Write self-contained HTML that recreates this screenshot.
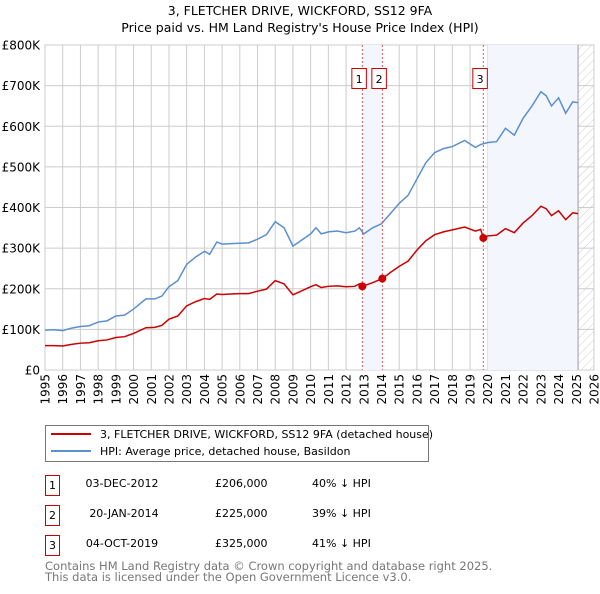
<!DOCTYPE html>
<html><head><meta charset="utf-8"><style>
body{margin:0;background:#fff;font-family:"DejaVu Sans","Liberation Sans",sans-serif}
svg text{font-family:"DejaVu Sans","Liberation Sans",sans-serif}
</style></head><body>
<svg id="chart" width="600" height="590" xmlns="http://www.w3.org/2000/svg">
<text x="300" y="15" text-anchor="middle" font-size="12.5">3, FLETCHER DRIVE, WICKFORD, SS12 9FA</text>
<text x="300" y="32" text-anchor="middle" font-size="12.5">Price paid vs. HM Land Registry's House Price Index (HPI)</text>
<defs><pattern id="hatch" width="6" height="6" patternUnits="userSpaceOnUse" patternTransform="rotate(45)"><line x1="0" y1="0" x2="0" y2="6" stroke="#ccc" stroke-width="1"/></pattern></defs>
<g id="grid"></g><g id="shade"></g><g id="lines"></g><g id="axes"></g>
<g>
<rect x="45.5" y="425.5" width="383" height="36" fill="#fff" stroke="#777"/>
<line x1="51" y1="434" x2="91" y2="434" stroke="#cc0000" stroke-width="2"/>
<text x="100" y="438" font-size="11">3, FLETCHER DRIVE, WICKFORD, SS12 9FA (detached house)</text>
<line x1="51" y1="451" x2="91" y2="451" stroke="#5b8fd0" stroke-width="2"/>
<text x="100" y="455" font-size="11">HPI: Average price, detached house, Basildon</text>
</g>
<g font-size="11">
<rect x="45.5" y="475.5" width="14" height="20" fill="#fff" stroke="#cc0000"/><text x="52.5" y="489" text-anchor="middle">1</text>
<text x="122" y="487" text-anchor="middle">03-DEC-2012</text><text x="215" y="487">£206,000</text><text x="312" y="487">40% ↓ HPI</text>
<rect x="45.5" y="505.5" width="14" height="20" fill="#fff" stroke="#cc0000"/><text x="52.5" y="519" text-anchor="middle">2</text>
<text x="124" y="517" text-anchor="middle">20-JAN-2014</text><text x="215" y="517">£225,000</text><text x="312" y="517">39% ↓ HPI</text>
<rect x="45.5" y="535.5" width="14" height="20" fill="#fff" stroke="#cc0000"/><text x="52.5" y="549" text-anchor="middle">3</text>
<text x="122" y="547" text-anchor="middle">04-OCT-2019</text><text x="215" y="547">£325,000</text><text x="312" y="547">41% ↓ HPI</text>
</g>
<text x="45" y="570" font-size="11.5" fill="#777">Contains HM Land Registry data © Crown copyright and database right 2025.</text>
<text x="45" y="581" font-size="11.5" fill="#777">This data is licensed under the Open Government Licence v3.0.</text>
</svg>
<script>
const hpiDates=[1995,1995.5,1996,1996.5,1997,1997.5,1998,1998.5,1999,1999.5,2000,2000.7,2001.2,2001.6,2002,2002.5,2003,2003.5,2004,2004.3,2004.7,2005,2005.5,2006,2006.5,2007,2007.5,2008,2008.5,2009,2009.5,2010,2010.3,2010.6,2011,2011.5,2012,2012.5,2012.75,2013,2013.5,2014,2014.5,2015,2015.5,2016,2016.5,2017,2017.5,2018,2018.7,2019.3,2019.6,2020,2020.5,2021,2021.5,2022,2022.5,2023,2023.3,2023.6,2024,2024.4,2024.8,2025.1];
const hpiValues=[98,99,97,103,107,109,118,121,133,135,150,175,175,182,205,220,260,278,292,285,315,310,311,312,313,322,333,365,350,305,320,335,350,335,340,342,338,342,350,335,350,360,385,410,430,470,510,535,545,550,565,548,555,560,562,595,578,620,650,685,675,650,670,632,660,658];
const redDates=[1995,1995.5,1996,1996.5,1997,1997.5,1998,1998.5,1999,1999.5,2000,2000.7,2001.2,2001.6,2002,2002.5,2003,2003.5,2004,2004.3,2004.7,2005,2005.5,2006,2006.5,2007,2007.5,2008,2008.5,2009,2009.5,2010,2010.3,2010.6,2011,2011.5,2012,2012.5,2012.75,2012.92,2013.5,2014.05,2014.5,2015,2015.5,2016,2016.5,2017,2017.5,2018,2018.7,2019.3,2019.6,2019.75,2020,2020.5,2021,2021.5,2022,2022.5,2023,2023.3,2023.6,2024,2024.4,2024.8,2025.1];
const redValues=[60,60,59,63,66,67,72,74,80,82,90,104,105,110,125,133,158,168,176,174,187,186,187,188,188,194,199,220,212,185,195,205,210,203,206,207,205,206,212,206,215,225,240,255,268,295,318,333,340,345,352,342,346,325,330,332,348,338,362,380,403,397,380,392,370,387,385];
const sales=[{n:"1",d:2012.92,v:206},{n:"2",d:2014.05,v:225},{n:"3",d:2019.75,v:325}];
const yTicks=[0,100,200,300,400,500,600,700,800];
const yLabels=["£0","£100K","£200K","£300K","£400K","£500K","£600K","£700K","£800K"];
const xYears=[];for(let y=1995;y<=2026;y++)xYears.push(y);
const X0=45,X1=594,Y0=370,Y1=45;
const sx=d=>X0+(d-1995)/(2026-1995)*(X1-X0);
const sy=v=>Y0-v/800*(Y0-Y1);
const NS="http://www.w3.org/2000/svg";
function mk(tag,attrs,parent,txt){const e=document.createElementNS(NS,tag);for(const k in attrs)e.setAttribute(k,attrs[k]);if(txt!==undefined)e.textContent=txt;parent.appendChild(e);return e;}
const grid=document.getElementById('grid'),shade=document.getElementById('shade'),lines=document.getElementById('lines'),axes=document.getElementById('axes');
yTicks.forEach((t,i)=>{
 const l=mk('line',{x1:X0,x2:X1,y1:sy(t),y2:sy(t),stroke:'#cccccc','stroke-width':1},grid);
 
 
 const tx=mk('text',{x:X0-5,y:sy(t)+4.5,'text-anchor':'end','font-size':12},axes,yLabels[i]);
 
 
});
xYears.forEach(y=>{
 const l=mk('line',{x1:sx(y),x2:sx(y),y1:Y1,y2:Y0,stroke:'#cccccc','stroke-width':1},grid);
 
 
 const tx=mk('text',{x:0,y:0,'text-anchor':'end','font-size':12,transform:`translate(${sx(y)+4.5},${Y0+4}) rotate(-90)`},axes,String(y));
 
 
});
const s1=mk('rect',{x:sx(sales[0].d),y:Y1,width:sx(sales[1].d)-sx(sales[0].d),height:Y0-Y1,fill:'#f3f7fd'},shade);


const endD=2025.1;
const s2=mk('rect',{x:sx(2020.0),y:Y1,width:sx(endD)-sx(2020.0),height:Y0-Y1,fill:'#f3f7fd'},shade);


const h=mk('rect',{x:sx(endD),y:Y1,width:X1-sx(endD),height:Y0-Y1,fill:'url(#hatch)'},shade);


const el=mk('line',{x1:sx(endD),x2:sx(endD),y1:Y1,y2:Y0,stroke:'#999','stroke-width':1},shade);


const b=mk('rect',{x:X0,y:Y1,width:X1-X0,height:Y0-Y1,fill:'none',stroke:'#cccccc'},grid);


const hp=mk('polyline',{points:hpiDates.map((d,i)=>sx(d)+','+sy(hpiValues[i])).join(' '),fill:'none',stroke:'#5b8fd0','stroke-width':1.5},lines);


const rp=mk('polyline',{points:redDates.map((d,i)=>sx(d)+','+sy(redValues[i])).join(' '),fill:'none',stroke:'#cc0000','stroke-width':1.5},lines);


sales.forEach(s=>{
 const v=mk('line',{x1:sx(s.d),x2:sx(s.d),y1:Y1,y2:Y0,stroke:'#e05a5a','stroke-width':1,'stroke-dasharray':'2,2'},lines);
 
 
 const c=mk('circle',{cx:sx(s.d),cy:sy(s.v),r:4,fill:'#cc0000'},lines);
 
 
 const bx=mk('rect',{x:sx(s.d)-10.5,y:68.5,width:14.5,height:20,fill:'#fff',stroke:'#cc0000'},lines);
 
 
 const bt=mk('text',{x:sx(s.d)-3.2,y:83,'text-anchor':'middle','font-size':11},lines,s.n);
 
 
});
</script>
</body></html>
